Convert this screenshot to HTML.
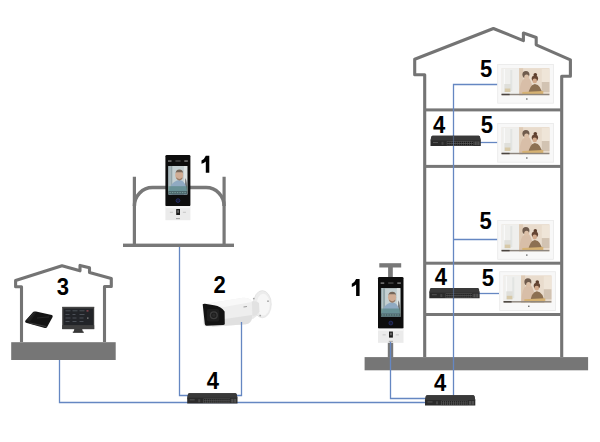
<!DOCTYPE html>
<html><head><meta charset="utf-8">
<style>
html,body{margin:0;padding:0;background:#fff;width:600px;height:442px;overflow:hidden}
svg{display:block}
text{font-family:"Liberation Sans",sans-serif;font-weight:bold;font-size:24px;fill:#000}
</style></head>
<body>
<svg width="600" height="442" viewBox="0 0 600 442">


<!-- ===== House 3 (left small house) ===== -->
<path d="M21.5,342 L21.5,286.8 L15.6,286.8 L15.6,280.6 L62,265.7 L80,270.8 L80,265.4 L89.5,267.8 L89.5,272.6 L111.3,278.6 L111.3,286.5 L104.5,286.5 L104.5,342" fill="none" stroke="#747474" stroke-width="3.1" stroke-linejoin="round"/>
<rect x="11.2" y="342.2" width="104.5" height="17.8" fill="#767676"/>
<!-- desk phone -->
<path d="M33.4,311.7 Q34.5,311.2 36,311.6 L51.8,315 Q53.2,315.5 52.6,317 L47,327.3 Q46.3,328.3 44.8,327.9 L26,322.8 Q24.6,322.2 25.3,320.8 Z" fill="#141414"/>
<path d="M26.5,320.2 L33.2,312.3 Q35,311.6 36.4,312.6 L30,321.8 Q28,321.6 26.5,320.2Z" fill="#1f1f1f"/>
<path d="M28,319.6 L34.2,312.5" stroke="#3a3a3a" stroke-width="0.6"/>
<path d="M29.8,322.4 L46.6,326.1 L46.1,327.3 L29.4,323.5Z" fill="#383838"/>
<path d="M37,318 L49,316.8" stroke="#262626" stroke-width="1.2"/>
<!-- pc monitor -->
<rect x="62.2" y="306.9" width="32" height="22.2" fill="#3b3b3b"/>
<rect x="62.2" y="306.9" width="32" height="0.8" fill="#4a4a4a"/>
<rect x="63.8" y="308.8" width="29.2" height="16.4" fill="#222428"/>
<path d="M65.5 310.8h5M72.5 310.8h5M79.5 310.8h5M65.5 314.5h4M72.5 314.5h3M79.5 314.5h5M65.5 318h5M72.5 318h4M79.5 318h4M65.5 321.5h4M72.5 321.5h4M79.5 321.5h4" stroke="#50565c" stroke-width="0.9"/>
<rect x="86.5" y="310.3" width="2" height="1.2" fill="#a04a55"/>
<rect x="87" y="317.5" width="1.5" height="1.2" fill="#8a8a8a"/>
<rect x="62.2" y="325.2" width="32" height="3.9" fill="#3f3f3f"/>
<path d="M74.3,329.1 L82.2,329.1 L83,332.3 L73.5,332.3Z" fill="#3a3a3a"/>
<rect x="72.8" y="331.6" width="11" height="1.2" fill="#333"/>

<!-- ===== Access control house 1 ===== -->
<path d="M134.4,245 L134.4,176.8 M224.1,245 L224.1,176.8" stroke="#787878" stroke-width="3.2" fill="none"/>
<path d="M134.4,206 A18,18.5 0 0 1 152.4,187.5 L206.1,187.5 A18,18.5 0 0 1 224.1,206" stroke="#787878" stroke-width="3.5" fill="none"/>
<rect x="123" y="243.6" width="111" height="3.4" fill="#787878"/>
<g transform="translate(165.4,155)">
    <rect x="0" y="0" width="25" height="51.2" rx="1.3" fill="#0d0d0d"/>
    <rect x="2.9" y="11" width="19" height="28.4" fill="#c4d0d2"/>
    <rect x="2.9" y="11" width="4" height="28.4" fill="#94a6aa"/>
    <rect x="4.2" y="11" width="0.8" height="28.4" fill="#c6d2d4"/>
    <rect x="18.5" y="11" width="3.4" height="28.4" fill="#dde3e3"/>
    <path d="M19.8,23 Q21.9,25 21.9,39.4 L19.5,39.4Z" fill="#6e7070"/>
    <path d="M3.5,39.4 Q4,26.5 14,25 Q21.5,26 21.5,39.4Z" fill="#90aac2"/>
    <ellipse cx="13.8" cy="20" rx="4" ry="5.1" fill="#d0ad95"/>
    <path d="M10.2,18.5 Q10.4,14.6 14,14.6 Q17.6,14.6 17.8,18.5 L17,17.2 L11,17.2Z" fill="#76675a"/>
    <path d="M11,22.3 Q14,25.8 17,22.3 L17,23.8 Q14,27 11,23.8Z" fill="#9a7c68"/>
    <rect x="2.9" y="31.2" width="19" height="4.8" fill="#4f8078" opacity="0.6"/>
    <rect x="2.9" y="36" width="19" height="3.4" fill="#2e4a47" opacity="0.7"/>
    <path d="M4,37.6h17" stroke="#8fb5ae" stroke-width="0.7" stroke-dasharray="1.4 1.1"/>
    <rect x="2.6" y="5.4" width="3.5" height="1.3" fill="#8a8a8a"/>
    <rect x="18.9" y="5.4" width="3.5" height="1.3" fill="#8a8a8a"/>
    <rect x="10" y="5.1" width="5.2" height="1.8" fill="#3a3a3a"/>
    <circle cx="12.6" cy="45.6" r="1.9" fill="#161a30" stroke="#2a3478" stroke-width="0.7"/>
    <rect x="0" y="51.2" width="25" height="14" fill="#ebebeb"/>
    <rect x="0" y="51.2" width="25" height="2" fill="#f6f6f6"/>
    <rect x="10.8" y="54" width="3.8" height="6" fill="#1c1c1c"/>
    <rect x="11.8" y="55.2" width="1.8" height="2.6" fill="#6a6a6a"/>
    <path d="M4.5,57.3h3M17.5,57.3h3" stroke="#bdbdbd" stroke-width="0.8"/>
    <rect x="10.6" y="63.2" width="4" height="0.9" fill="#9a9a9a"/>
  </g>
<g transform="translate(201.5,155.8)">
    <path d="M4.3,0 L7.8,0 L7.8,17 L4.3,17 L4.3,5.6 Q2.4,7.2 0,8 L0,4.8 Q3,3.4 4.3,0 Z" fill="#000"/>
  </g>

<!-- ===== Camera 2 ===== -->
<g>
  <path d="M248,303 L257,299 L261.5,312 L253,319 L249,318Z" fill="#e9e9e9"/>
  <ellipse cx="262.3" cy="304.2" rx="9" ry="13.6" fill="#ececec" stroke="#dedede" stroke-width="0.6"/>
  <ellipse cx="263.2" cy="304.6" rx="6.6" ry="10.8" fill="#f6f6f6"/>
  <path d="M252,302 Q256,300 259,303 L259.5,312 Q256,316 252.5,316Z" fill="#e2e2e2"/>
  <circle cx="253.8" cy="298.6" r="0.9" fill="#a5a5a5"/>
  <circle cx="268" cy="301.2" r="0.9" fill="#a5a5a5"/>
  <circle cx="260.2" cy="315.6" r="0.9" fill="#a5a5a5"/>
  <path d="M202.7,304.3 L243,297.8 Q250.5,297.6 251.8,302 L252,318 Q251.5,323 246,324.3 L212,326.8 L205,326.2 Q203.2,325 203,322Z" fill="#eeeeee"/>
  <path d="M202.7,304.3 L243,297.8 Q250.5,297.6 251.8,302 L224,307Z" fill="#f8f8f8"/>
  <path d="M212,326.8 L246,324.3 Q251.5,323 252,318 L252,315 L214,320.5Z" fill="#e0e0e0"/>
  <path d="M202.7,304.3 Q203.5,303.6 205,303.8 L214,305.3 Q221.5,306.5 224.6,311.5 L224.8,324 Q224.5,324.8 223,325 L206.5,325.8 Q205,325.6 204.8,324 Z" fill="#131313"/>
  <rect x="206.9" y="309" width="12.3" height="12.4" rx="2" fill="#1e1e1e"/>
  <circle cx="213.8" cy="315.2" r="3.4" fill="none" stroke="#3d3d3d" stroke-width="1.3"/>
  <circle cx="213.8" cy="315.2" r="1.6" fill="#2a2a2a"/>
  <rect x="243.5" y="306.3" width="3.5" height="1" fill="#9a9a9a" transform="rotate(-8 245 307)"/>
</g>

<!-- ===== Big building ===== -->
<path d="M424.7,357 L424.7,74.7 L414.7,74.7 L414.7,59.3 L493.4,28.5 L523.4,40.6 L523.4,33 L536.2,37.5 L536.2,44.8 L570.4,59.8 L570.4,76.3 L561.7,76.3 L561.7,357" fill="none" stroke="#747474" stroke-width="3.1" stroke-linejoin="round"/>
<rect x="424" y="108.4" width="138" height="3" fill="#777"/>
<rect x="424" y="164.9" width="138" height="3" fill="#777"/>
<rect x="424" y="261.7" width="138" height="3" fill="#777"/>
<rect x="424" y="313" width="138" height="3" fill="#777"/>
<rect x="364.6" y="357.1" width="223.5" height="13.2" fill="#767676"/>

<!-- right access controller with T-pole -->
<rect x="379.3" y="263.2" width="21.9" height="4.3" fill="#787878"/>
<rect x="388.1" y="267" width="4.7" height="10.5" fill="#787878"/>
<rect x="387.8" y="341" width="5.4" height="16.5" fill="#787878"/>
<g transform="translate(378,277) scale(1.02,1.01)">
    <rect x="0" y="0" width="25" height="51.2" rx="1.3" fill="#0d0d0d"/>
    <rect x="2.9" y="11" width="19" height="28.4" fill="#c4d0d2"/>
    <rect x="2.9" y="11" width="4" height="28.4" fill="#94a6aa"/>
    <rect x="4.2" y="11" width="0.8" height="28.4" fill="#c6d2d4"/>
    <rect x="18.5" y="11" width="3.4" height="28.4" fill="#dde3e3"/>
    <path d="M19.8,23 Q21.9,25 21.9,39.4 L19.5,39.4Z" fill="#6e7070"/>
    <path d="M3.5,39.4 Q4,26.5 14,25 Q21.5,26 21.5,39.4Z" fill="#90aac2"/>
    <ellipse cx="13.8" cy="20" rx="4" ry="5.1" fill="#d0ad95"/>
    <path d="M10.2,18.5 Q10.4,14.6 14,14.6 Q17.6,14.6 17.8,18.5 L17,17.2 L11,17.2Z" fill="#76675a"/>
    <path d="M11,22.3 Q14,25.8 17,22.3 L17,23.8 Q14,27 11,23.8Z" fill="#9a7c68"/>
    <rect x="2.9" y="31.2" width="19" height="4.8" fill="#4f8078" opacity="0.6"/>
    <rect x="2.9" y="36" width="19" height="3.4" fill="#2e4a47" opacity="0.7"/>
    <path d="M4,37.6h17" stroke="#8fb5ae" stroke-width="0.7" stroke-dasharray="1.4 1.1"/>
    <rect x="2.6" y="5.4" width="3.5" height="1.3" fill="#8a8a8a"/>
    <rect x="18.9" y="5.4" width="3.5" height="1.3" fill="#8a8a8a"/>
    <rect x="10" y="5.1" width="5.2" height="1.8" fill="#3a3a3a"/>
    <circle cx="12.6" cy="45.6" r="1.9" fill="#161a30" stroke="#2a3478" stroke-width="0.7"/>
    <rect x="0" y="51.2" width="25" height="14" fill="#ebebeb"/>
    <rect x="0" y="51.2" width="25" height="2" fill="#f6f6f6"/>
    <rect x="10.8" y="54" width="3.8" height="6" fill="#1c1c1c"/>
    <rect x="11.8" y="55.2" width="1.8" height="2.6" fill="#6a6a6a"/>
    <path d="M4.5,57.3h3M17.5,57.3h3" stroke="#bdbdbd" stroke-width="0.8"/>
    <rect x="10.6" y="63.2" width="4" height="0.9" fill="#9a9a9a"/>
  </g>
<g transform="translate(351.8,279)">
    <path d="M4.3,0 L7.8,0 L7.8,17 L4.3,17 L4.3,5.6 Q2.4,7.2 0,8 L0,4.8 Q3,3.4 4.3,0 Z" fill="#000"/>
  </g>

<!-- blue lines -->
<g stroke="#6587c2" stroke-width="1.3" fill="none">
  <path d="M59.5,360 L59.5,402.5 L426,402.5"/>
  <path d="M179.5,247 L179.5,395.5 L189,395.5"/>
  <path d="M241.5,322 L241.5,395.5 L236,395.5"/>
  <path d="M390.5,342 L390.5,398.5 L426,398.5"/>
  <path d="M453.5,395.5 L453.5,84.5 L497.5,84.5"/>
  <path d="M480,142.5 L497.5,142.5"/>
  <path d="M453.5,239.5 L497.5,239.5"/>
  <path d="M479,293.5 L499,293.5"/>
</g>

<!-- switches -->
<g transform="translate(187.2,393.2)">
    <path d="M2.2,0 L48.1,0 Q49.2,0.1 49.5,1.2 L50.3,5 L50.3,10.2 L0,10.2 L0,5 L0.8,1.2 Q1.1,0.1 2.2,0Z" fill="#2b2b2b"/>
    <path d="M2.2,0 L48.1,0 Q49.2,0.1 49.5,1.2 L50.3,4.6 L0,4.6 L0.8,1.2 Q1.1,0.1 2.2,0Z" fill="#393939"/>
    <rect x="16.3" y="5.4" width="26.6" height="4.4" fill="#5c5c5c"/>
    <rect x="16.90" y="5.9" width="1.4" height="1.4" fill="#181818"/><rect x="16.90" y="8" width="1.4" height="1.4" fill="#181818"/><rect x="18.92" y="5.9" width="1.4" height="1.4" fill="#181818"/><rect x="18.92" y="8" width="1.4" height="1.4" fill="#181818"/><rect x="20.94" y="5.9" width="1.4" height="1.4" fill="#181818"/><rect x="20.94" y="8" width="1.4" height="1.4" fill="#181818"/><rect x="22.96" y="5.9" width="1.4" height="1.4" fill="#181818"/><rect x="22.96" y="8" width="1.4" height="1.4" fill="#181818"/><rect x="24.98" y="5.9" width="1.4" height="1.4" fill="#181818"/><rect x="24.98" y="8" width="1.4" height="1.4" fill="#181818"/><rect x="27.00" y="5.9" width="1.4" height="1.4" fill="#181818"/><rect x="27.00" y="8" width="1.4" height="1.4" fill="#181818"/><rect x="29.02" y="5.9" width="1.4" height="1.4" fill="#181818"/><rect x="29.02" y="8" width="1.4" height="1.4" fill="#181818"/><rect x="31.04" y="5.9" width="1.4" height="1.4" fill="#181818"/><rect x="31.04" y="8" width="1.4" height="1.4" fill="#181818"/><rect x="33.06" y="5.9" width="1.4" height="1.4" fill="#181818"/><rect x="33.06" y="8" width="1.4" height="1.4" fill="#181818"/><rect x="35.08" y="5.9" width="1.4" height="1.4" fill="#181818"/><rect x="35.08" y="8" width="1.4" height="1.4" fill="#181818"/><rect x="37.10" y="5.9" width="1.4" height="1.4" fill="#181818"/><rect x="37.10" y="8" width="1.4" height="1.4" fill="#181818"/><rect x="39.12" y="5.9" width="1.4" height="1.4" fill="#181818"/><rect x="39.12" y="8" width="1.4" height="1.4" fill="#181818"/><rect x="41.14" y="5.9" width="1.4" height="1.4" fill="#181818"/><rect x="41.14" y="8" width="1.4" height="1.4" fill="#181818"/>
    <rect x="44" y="5.6" width="5" height="3.8" fill="#505050"/>
    <path d="M46.5 5.6v3.8" stroke="#2d2d2d" stroke-width="0.6"/>
    <rect x="2.5" y="6.2" width="5" height="0.9" fill="#5a5a5a"/>
    <rect x="11" y="6" width="2" height="3" fill="#454545"/>
  </g>
<g transform="translate(425,395.3)">
    <path d="M2.2,0 L48.1,0 Q49.2,0.1 49.5,1.2 L50.3,5 L50.3,10.2 L0,10.2 L0,5 L0.8,1.2 Q1.1,0.1 2.2,0Z" fill="#2b2b2b"/>
    <path d="M2.2,0 L48.1,0 Q49.2,0.1 49.5,1.2 L50.3,4.6 L0,4.6 L0.8,1.2 Q1.1,0.1 2.2,0Z" fill="#393939"/>
    <rect x="16.3" y="5.4" width="26.6" height="4.4" fill="#5c5c5c"/>
    <rect x="16.90" y="5.9" width="1.4" height="1.4" fill="#181818"/><rect x="16.90" y="8" width="1.4" height="1.4" fill="#181818"/><rect x="18.92" y="5.9" width="1.4" height="1.4" fill="#181818"/><rect x="18.92" y="8" width="1.4" height="1.4" fill="#181818"/><rect x="20.94" y="5.9" width="1.4" height="1.4" fill="#181818"/><rect x="20.94" y="8" width="1.4" height="1.4" fill="#181818"/><rect x="22.96" y="5.9" width="1.4" height="1.4" fill="#181818"/><rect x="22.96" y="8" width="1.4" height="1.4" fill="#181818"/><rect x="24.98" y="5.9" width="1.4" height="1.4" fill="#181818"/><rect x="24.98" y="8" width="1.4" height="1.4" fill="#181818"/><rect x="27.00" y="5.9" width="1.4" height="1.4" fill="#181818"/><rect x="27.00" y="8" width="1.4" height="1.4" fill="#181818"/><rect x="29.02" y="5.9" width="1.4" height="1.4" fill="#181818"/><rect x="29.02" y="8" width="1.4" height="1.4" fill="#181818"/><rect x="31.04" y="5.9" width="1.4" height="1.4" fill="#181818"/><rect x="31.04" y="8" width="1.4" height="1.4" fill="#181818"/><rect x="33.06" y="5.9" width="1.4" height="1.4" fill="#181818"/><rect x="33.06" y="8" width="1.4" height="1.4" fill="#181818"/><rect x="35.08" y="5.9" width="1.4" height="1.4" fill="#181818"/><rect x="35.08" y="8" width="1.4" height="1.4" fill="#181818"/><rect x="37.10" y="5.9" width="1.4" height="1.4" fill="#181818"/><rect x="37.10" y="8" width="1.4" height="1.4" fill="#181818"/><rect x="39.12" y="5.9" width="1.4" height="1.4" fill="#181818"/><rect x="39.12" y="8" width="1.4" height="1.4" fill="#181818"/><rect x="41.14" y="5.9" width="1.4" height="1.4" fill="#181818"/><rect x="41.14" y="8" width="1.4" height="1.4" fill="#181818"/>
    <rect x="44" y="5.6" width="5" height="3.8" fill="#505050"/>
    <path d="M46.5 5.6v3.8" stroke="#2d2d2d" stroke-width="0.6"/>
    <rect x="2.5" y="6.2" width="5" height="0.9" fill="#5a5a5a"/>
    <rect x="11" y="6" width="2" height="3" fill="#454545"/>
  </g>
<g transform="translate(430.5,135.8)">
    <path d="M2.2,0 L48.1,0 Q49.2,0.1 49.5,1.2 L50.3,5 L50.3,10.2 L0,10.2 L0,5 L0.8,1.2 Q1.1,0.1 2.2,0Z" fill="#2b2b2b"/>
    <path d="M2.2,0 L48.1,0 Q49.2,0.1 49.5,1.2 L50.3,4.6 L0,4.6 L0.8,1.2 Q1.1,0.1 2.2,0Z" fill="#393939"/>
    <rect x="16.3" y="5.4" width="26.6" height="4.4" fill="#5c5c5c"/>
    <rect x="16.90" y="5.9" width="1.4" height="1.4" fill="#181818"/><rect x="16.90" y="8" width="1.4" height="1.4" fill="#181818"/><rect x="18.92" y="5.9" width="1.4" height="1.4" fill="#181818"/><rect x="18.92" y="8" width="1.4" height="1.4" fill="#181818"/><rect x="20.94" y="5.9" width="1.4" height="1.4" fill="#181818"/><rect x="20.94" y="8" width="1.4" height="1.4" fill="#181818"/><rect x="22.96" y="5.9" width="1.4" height="1.4" fill="#181818"/><rect x="22.96" y="8" width="1.4" height="1.4" fill="#181818"/><rect x="24.98" y="5.9" width="1.4" height="1.4" fill="#181818"/><rect x="24.98" y="8" width="1.4" height="1.4" fill="#181818"/><rect x="27.00" y="5.9" width="1.4" height="1.4" fill="#181818"/><rect x="27.00" y="8" width="1.4" height="1.4" fill="#181818"/><rect x="29.02" y="5.9" width="1.4" height="1.4" fill="#181818"/><rect x="29.02" y="8" width="1.4" height="1.4" fill="#181818"/><rect x="31.04" y="5.9" width="1.4" height="1.4" fill="#181818"/><rect x="31.04" y="8" width="1.4" height="1.4" fill="#181818"/><rect x="33.06" y="5.9" width="1.4" height="1.4" fill="#181818"/><rect x="33.06" y="8" width="1.4" height="1.4" fill="#181818"/><rect x="35.08" y="5.9" width="1.4" height="1.4" fill="#181818"/><rect x="35.08" y="8" width="1.4" height="1.4" fill="#181818"/><rect x="37.10" y="5.9" width="1.4" height="1.4" fill="#181818"/><rect x="37.10" y="8" width="1.4" height="1.4" fill="#181818"/><rect x="39.12" y="5.9" width="1.4" height="1.4" fill="#181818"/><rect x="39.12" y="8" width="1.4" height="1.4" fill="#181818"/><rect x="41.14" y="5.9" width="1.4" height="1.4" fill="#181818"/><rect x="41.14" y="8" width="1.4" height="1.4" fill="#181818"/>
    <rect x="44" y="5.6" width="5" height="3.8" fill="#505050"/>
    <path d="M46.5 5.6v3.8" stroke="#2d2d2d" stroke-width="0.6"/>
    <rect x="2.5" y="6.2" width="5" height="0.9" fill="#5a5a5a"/>
    <rect x="11" y="6" width="2" height="3" fill="#454545"/>
  </g>
<g transform="translate(429.3,288.1)">
    <path d="M2.2,0 L48.1,0 Q49.2,0.1 49.5,1.2 L50.3,5 L50.3,10.2 L0,10.2 L0,5 L0.8,1.2 Q1.1,0.1 2.2,0Z" fill="#2b2b2b"/>
    <path d="M2.2,0 L48.1,0 Q49.2,0.1 49.5,1.2 L50.3,4.6 L0,4.6 L0.8,1.2 Q1.1,0.1 2.2,0Z" fill="#393939"/>
    <rect x="16.3" y="5.4" width="26.6" height="4.4" fill="#5c5c5c"/>
    <rect x="16.90" y="5.9" width="1.4" height="1.4" fill="#181818"/><rect x="16.90" y="8" width="1.4" height="1.4" fill="#181818"/><rect x="18.92" y="5.9" width="1.4" height="1.4" fill="#181818"/><rect x="18.92" y="8" width="1.4" height="1.4" fill="#181818"/><rect x="20.94" y="5.9" width="1.4" height="1.4" fill="#181818"/><rect x="20.94" y="8" width="1.4" height="1.4" fill="#181818"/><rect x="22.96" y="5.9" width="1.4" height="1.4" fill="#181818"/><rect x="22.96" y="8" width="1.4" height="1.4" fill="#181818"/><rect x="24.98" y="5.9" width="1.4" height="1.4" fill="#181818"/><rect x="24.98" y="8" width="1.4" height="1.4" fill="#181818"/><rect x="27.00" y="5.9" width="1.4" height="1.4" fill="#181818"/><rect x="27.00" y="8" width="1.4" height="1.4" fill="#181818"/><rect x="29.02" y="5.9" width="1.4" height="1.4" fill="#181818"/><rect x="29.02" y="8" width="1.4" height="1.4" fill="#181818"/><rect x="31.04" y="5.9" width="1.4" height="1.4" fill="#181818"/><rect x="31.04" y="8" width="1.4" height="1.4" fill="#181818"/><rect x="33.06" y="5.9" width="1.4" height="1.4" fill="#181818"/><rect x="33.06" y="8" width="1.4" height="1.4" fill="#181818"/><rect x="35.08" y="5.9" width="1.4" height="1.4" fill="#181818"/><rect x="35.08" y="8" width="1.4" height="1.4" fill="#181818"/><rect x="37.10" y="5.9" width="1.4" height="1.4" fill="#181818"/><rect x="37.10" y="8" width="1.4" height="1.4" fill="#181818"/><rect x="39.12" y="5.9" width="1.4" height="1.4" fill="#181818"/><rect x="39.12" y="8" width="1.4" height="1.4" fill="#181818"/><rect x="41.14" y="5.9" width="1.4" height="1.4" fill="#181818"/><rect x="41.14" y="8" width="1.4" height="1.4" fill="#181818"/>
    <rect x="44" y="5.6" width="5" height="3.8" fill="#505050"/>
    <path d="M46.5 5.6v3.8" stroke="#2d2d2d" stroke-width="0.6"/>
    <rect x="2.5" y="6.2" width="5" height="0.9" fill="#5a5a5a"/>
    <rect x="11" y="6" width="2" height="3" fill="#454545"/>
  </g>

<path d="M453.5,135.8 V146 M453.5,288.1 V298.3" stroke="#6587c2" stroke-width="1.2" opacity="0.45"/>
<!-- monitors -->
<g transform="translate(497.3,64)">
    <rect x="0.4" y="0.4" width="55.8" height="38.8" fill="#f8f8f8" stroke="#e9e9e9" stroke-width="0.8"/>
    <rect x="4.3" y="4.2" width="47.8" height="27" fill="#ece2d6"/>
    <rect x="4.3" y="4.2" width="17.5" height="27" fill="#efefed"/>
    <rect x="6.5" y="5" width="1.2" height="22" fill="#f9f9f9"/>
    <rect x="13" y="6" width="2" height="21" fill="#e2e4e2"/>
    <rect x="7" y="20" width="6.5" height="8" fill="#dfdfda"/>
    <rect x="7.5" y="24.5" width="5.5" height="3.5" fill="#d7c9a8"/>
    <rect x="21.8" y="4.2" width="30.3" height="27" fill="#e9dccd"/>
    <rect x="21.8" y="4.2" width="4" height="27" fill="#dfcbb6"/>
    <rect x="44.5" y="5" width="7.6" height="13" fill="#efe5d8"/>
    <rect x="44.5" y="18" width="7.6" height="10" fill="#d2c3b2"/>
    <path d="M22,31 Q22.5,17 27,14.5 L32,14.5 Q35.5,19 36,31Z" fill="#d8bea8"/>
    <ellipse cx="28.6" cy="10.6" rx="3.5" ry="3.6" fill="#6f5b4d"/>
    <ellipse cx="29.3" cy="13.2" rx="2.4" ry="2.6" fill="#dcc0a8"/>
    <circle cx="38" cy="10.8" r="1.8" fill="#5c3e2c"/>
    <ellipse cx="37.6" cy="14.5" rx="3.2" ry="3" fill="#654533"/>
    <ellipse cx="37.4" cy="16.9" rx="2.3" ry="2.4" fill="#d3ab8d"/>
    <path d="M31,31 Q32,21 37.6,20 Q44,21 45,31Z" fill="#8c7052"/>
    <path d="M25,28 L46,27 L46,30.5 L25,30.5Z" fill="#d6b273"/>
    <rect x="4.3" y="29.8" width="47.8" height="1.4" fill="#8d857e"/>
    <rect x="4.3" y="29.8" width="8" height="1.4" fill="#4a4440"/>
    <rect x="28.8" y="34.3" width="1.4" height="1.4" fill="#666"/>
  </g>
<g transform="translate(497.3,123)">
    <rect x="0.4" y="0.4" width="55.8" height="38.8" fill="#f8f8f8" stroke="#e9e9e9" stroke-width="0.8"/>
    <rect x="4.3" y="4.2" width="47.8" height="27" fill="#ece2d6"/>
    <rect x="4.3" y="4.2" width="17.5" height="27" fill="#efefed"/>
    <rect x="6.5" y="5" width="1.2" height="22" fill="#f9f9f9"/>
    <rect x="13" y="6" width="2" height="21" fill="#e2e4e2"/>
    <rect x="7" y="20" width="6.5" height="8" fill="#dfdfda"/>
    <rect x="7.5" y="24.5" width="5.5" height="3.5" fill="#d7c9a8"/>
    <rect x="21.8" y="4.2" width="30.3" height="27" fill="#e9dccd"/>
    <rect x="21.8" y="4.2" width="4" height="27" fill="#dfcbb6"/>
    <rect x="44.5" y="5" width="7.6" height="13" fill="#efe5d8"/>
    <rect x="44.5" y="18" width="7.6" height="10" fill="#d2c3b2"/>
    <path d="M22,31 Q22.5,17 27,14.5 L32,14.5 Q35.5,19 36,31Z" fill="#d8bea8"/>
    <ellipse cx="28.6" cy="10.6" rx="3.5" ry="3.6" fill="#6f5b4d"/>
    <ellipse cx="29.3" cy="13.2" rx="2.4" ry="2.6" fill="#dcc0a8"/>
    <circle cx="38" cy="10.8" r="1.8" fill="#5c3e2c"/>
    <ellipse cx="37.6" cy="14.5" rx="3.2" ry="3" fill="#654533"/>
    <ellipse cx="37.4" cy="16.9" rx="2.3" ry="2.4" fill="#d3ab8d"/>
    <path d="M31,31 Q32,21 37.6,20 Q44,21 45,31Z" fill="#8c7052"/>
    <path d="M25,28 L46,27 L46,30.5 L25,30.5Z" fill="#d6b273"/>
    <rect x="4.3" y="29.8" width="47.8" height="1.4" fill="#8d857e"/>
    <rect x="4.3" y="29.8" width="8" height="1.4" fill="#4a4440"/>
    <rect x="28.8" y="34.3" width="1.4" height="1.4" fill="#666"/>
  </g>
<g transform="translate(497.3,220.1)">
    <rect x="0.4" y="0.4" width="55.8" height="38.8" fill="#f8f8f8" stroke="#e9e9e9" stroke-width="0.8"/>
    <rect x="4.3" y="4.2" width="47.8" height="27" fill="#ece2d6"/>
    <rect x="4.3" y="4.2" width="17.5" height="27" fill="#efefed"/>
    <rect x="6.5" y="5" width="1.2" height="22" fill="#f9f9f9"/>
    <rect x="13" y="6" width="2" height="21" fill="#e2e4e2"/>
    <rect x="7" y="20" width="6.5" height="8" fill="#dfdfda"/>
    <rect x="7.5" y="24.5" width="5.5" height="3.5" fill="#d7c9a8"/>
    <rect x="21.8" y="4.2" width="30.3" height="27" fill="#e9dccd"/>
    <rect x="21.8" y="4.2" width="4" height="27" fill="#dfcbb6"/>
    <rect x="44.5" y="5" width="7.6" height="13" fill="#efe5d8"/>
    <rect x="44.5" y="18" width="7.6" height="10" fill="#d2c3b2"/>
    <path d="M22,31 Q22.5,17 27,14.5 L32,14.5 Q35.5,19 36,31Z" fill="#d8bea8"/>
    <ellipse cx="28.6" cy="10.6" rx="3.5" ry="3.6" fill="#6f5b4d"/>
    <ellipse cx="29.3" cy="13.2" rx="2.4" ry="2.6" fill="#dcc0a8"/>
    <circle cx="38" cy="10.8" r="1.8" fill="#5c3e2c"/>
    <ellipse cx="37.6" cy="14.5" rx="3.2" ry="3" fill="#654533"/>
    <ellipse cx="37.4" cy="16.9" rx="2.3" ry="2.4" fill="#d3ab8d"/>
    <path d="M31,31 Q32,21 37.6,20 Q44,21 45,31Z" fill="#8c7052"/>
    <path d="M25,28 L46,27 L46,30.5 L25,30.5Z" fill="#d6b273"/>
    <rect x="4.3" y="29.8" width="47.8" height="1.4" fill="#8d857e"/>
    <rect x="4.3" y="29.8" width="8" height="1.4" fill="#4a4440"/>
    <rect x="28.8" y="34.3" width="1.4" height="1.4" fill="#666"/>
  </g>
<g transform="translate(499.3,271.3)">
    <rect x="0.4" y="0.4" width="55.8" height="38.8" fill="#f8f8f8" stroke="#e9e9e9" stroke-width="0.8"/>
    <rect x="4.3" y="4.2" width="47.8" height="27" fill="#ece2d6"/>
    <rect x="4.3" y="4.2" width="17.5" height="27" fill="#efefed"/>
    <rect x="6.5" y="5" width="1.2" height="22" fill="#f9f9f9"/>
    <rect x="13" y="6" width="2" height="21" fill="#e2e4e2"/>
    <rect x="7" y="20" width="6.5" height="8" fill="#dfdfda"/>
    <rect x="7.5" y="24.5" width="5.5" height="3.5" fill="#d7c9a8"/>
    <rect x="21.8" y="4.2" width="30.3" height="27" fill="#e9dccd"/>
    <rect x="21.8" y="4.2" width="4" height="27" fill="#dfcbb6"/>
    <rect x="44.5" y="5" width="7.6" height="13" fill="#efe5d8"/>
    <rect x="44.5" y="18" width="7.6" height="10" fill="#d2c3b2"/>
    <path d="M22,31 Q22.5,17 27,14.5 L32,14.5 Q35.5,19 36,31Z" fill="#d8bea8"/>
    <ellipse cx="28.6" cy="10.6" rx="3.5" ry="3.6" fill="#6f5b4d"/>
    <ellipse cx="29.3" cy="13.2" rx="2.4" ry="2.6" fill="#dcc0a8"/>
    <circle cx="38" cy="10.8" r="1.8" fill="#5c3e2c"/>
    <ellipse cx="37.6" cy="14.5" rx="3.2" ry="3" fill="#654533"/>
    <ellipse cx="37.4" cy="16.9" rx="2.3" ry="2.4" fill="#d3ab8d"/>
    <path d="M31,31 Q32,21 37.6,20 Q44,21 45,31Z" fill="#8c7052"/>
    <path d="M25,28 L46,27 L46,30.5 L25,30.5Z" fill="#d6b273"/>
    <rect x="4.3" y="29.8" width="47.8" height="1.4" fill="#8d857e"/>
    <rect x="4.3" y="29.8" width="8" height="1.4" fill="#4a4440"/>
    <rect x="28.8" y="34.3" width="1.4" height="1.4" fill="#666"/>
  </g>

<!-- labels -->
<g style="text-anchor:middle">
<text transform="translate(486.07,77.3) scale(0.92,1)">5</text>
<text transform="translate(486.87,132.5) scale(0.92,1)">5</text>
<text transform="translate(485.52,229.2) scale(0.92,1)">5</text>
<text transform="translate(487.77,285.9) scale(0.92,1)">5</text>
<text transform="translate(439.12,132.5) scale(0.92,1)">4</text>
<text transform="translate(440.77,284.7) scale(0.92,1)">4</text>
<text transform="translate(212.92,388.5) scale(0.92,1)">4</text>
<text transform="translate(440.22,390.5) scale(0.92,1)">4</text>
<text transform="translate(219.67,292.8) scale(0.92,1)">2</text>
<text transform="translate(62.97,294.6) scale(0.92,1)">3</text>
</g>
</svg>
</body></html>
